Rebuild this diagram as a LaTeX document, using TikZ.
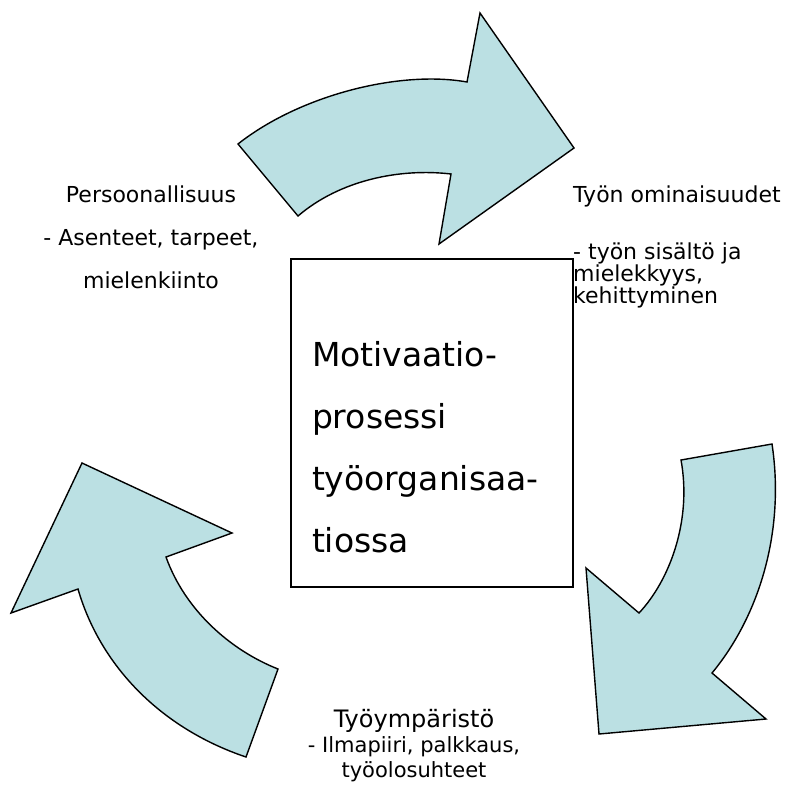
\documentclass[tikz,border=0pt]{standalone}
\usepackage{fontspec}
\setmainfont{DejaVu Sans}
\definecolor{arrowfill}{HTML}{BBE0E3}

\tikzset{
  bendarrow/.style={fill=arrowfill, draw=black, line width=1.4pt, line join=miter},
  label/.style={inner sep=0pt, anchor=base}
}

\begin{document}
\begin{tikzpicture}[x=1pt,y=-1pt]
        \useasboundingbox (0,0) rectangle (791,785);

        % top arrow
        \filldraw[bendarrow] (238,144) .. controls (300,95) and (400,70) .. (467,82)
            -- (480,13) -- (574,148) -- (439,244) -- (451,174)
            .. controls (400,168) and (340,180) .. (298,216) -- cycle;
        % right arrow
        \filldraw[bendarrow] (772,444) -- (681,460)
            .. controls (692,520) and (670,580) .. (639,613)
            -- (586,568) -- (599,734) -- (766,719) -- (712,673)
            .. controls (760,615) and (785,530) .. (772,444) -- cycle;
        % left arrow
        \filldraw[bendarrow] (82,463) -- (232,533) -- (166,557)
            .. controls (185,610) and (230,650) .. (278,669)
            -- (246,757)
            .. controls (160,728) and (100,665) .. (78,589)
            -- (11,613) -- cycle;

        \node[draw, line width=1.4pt, anchor=base, text width=240pt, align=left,
              inner xsep=21pt, inner ysep=0pt, text height=107pt, text depth=221pt,
              font=\fontsize{33}{62}\selectfont]
            (motiv) at (432,366) {Motivaatio-\\prosessi\\työorganisaa-\\tiossa};

        % multi-line labels sit on the baseline of their last line
        \node[label, align=center, font=\fontsize{22}{43}\selectfont]
            (persoona) at (151,288) {Persoonallisuus\\- Asenteet, tarpeet,\\mielenkiinto};
        \node[label, anchor=base west, align=left, font=\fontsize{22}{22}\selectfont]
            (tyon) at (573,303) {Työn ominaisuudet\\[35pt]- työn sisältö ja\\mielekkyys,\\kehittyminen};
        \node[label, align=center, font=\fontsize{21}{25}\selectfont]
            (ymparisto) at (414,777) {{\fontsize{24}{25}\selectfont Työympäristö}\\- Ilmapiiri, palkkaus,\\työolosuhteet};
    \end{tikzpicture}
\end{document}
